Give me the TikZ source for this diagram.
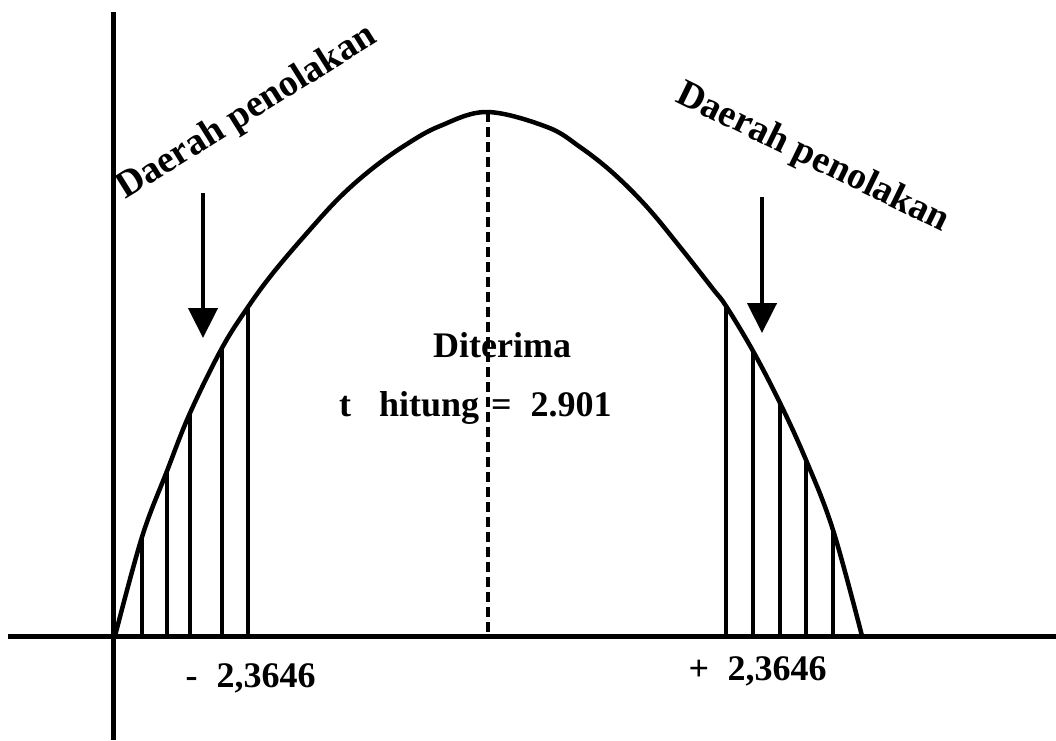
\documentclass[tikz,border=0pt]{standalone}
\usepackage{fontspec}
\setmainfont{Liberation Serif}
\usetikzlibrary{arrows.meta}
\tikzset{
  axisline/.style={line width=5pt},
  curveline/.style={line width=4.5pt, line join=round},
  hatch/.style={line width=4pt},
  midline/.style={line width=4pt, dash pattern=on 10pt off 5pt},
  downarrow/.style={line width=4.5pt, -{Triangle[length=30pt,width=29pt]}},
  lbl/.style={inner sep=0pt, anchor=base west, font=\fontsize{36}{40}\selectfont\bfseries},
  biglbl/.style={inner sep=0pt, anchor=base west, font=\fontsize{38}{42}\selectfont\bfseries}
}
\begin{document}
\begin{tikzpicture}[x=1pt,y=-1pt]
\useasboundingbox (0,0) rectangle (1056,740);
% axes
\coordinate (yt) at (113,12);
\coordinate (yb) at (113,740);
\coordinate (xl) at (8,636);
\coordinate (xr) at (1056,636);
\draw[axisline] (yt) -- (yb);
\draw[axisline] (xl) -- (xr);
% curve
\draw[curveline] plot[smooth, tension=0.6] coordinates {
 (115,636) (142,537) (167,471) (190,413) (222,348) (248,307) (273,273)
 (307,233) (340,197) (373,168) (407,144) (440,126) (487,112)
 (547,127) (580,147) (613,173) (647,207) (680,247) (713,289)
 (726,306) (753,351) (780,403) (806,460) (833,530) (862,636)};
% left hatch lines
\foreach \x/\y [count=\i] in {142/537,167/471,190/413,222/348,248/307}{
  \coordinate (lb\i) at (\x,636);
  \coordinate (lt\i) at (\x,\y);
  \draw[hatch] (lb\i) -- (lt\i);
}
% right hatch lines
\foreach \x/\y [count=\i] in {726/306,753/351,780/403,806/460,833/530}{
  \coordinate (rb\i) at (\x,636);
  \coordinate (rt\i) at (\x,\y);
  \draw[hatch] (rb\i) -- (rt\i);
}
% middle dashed line
\coordinate (mt) at (488,112);
\coordinate (mb) at (488,636);
\draw[midline] (mt) -- (mb);
% arrows
\coordinate (la1) at (203,193);
\coordinate (la2) at (203,338);
\draw[downarrow] (la1) -- (la2);
\coordinate (ra1) at (762,197);
\coordinate (ra2) at (762,333);
\draw[downarrow] (ra1) -- (ra2);
% labels
\node[biglbl, rotate=32] (dl) at (125,200) {Daerah penolakan};
\node[biglbl, rotate=-26] (dr) at (674,101) {Daerah penolakan};
\node[lbl] (dt) at (433,357) {Diterima};
\node[lbl] (th) at (339,416) {t\hspace{28pt}hitung\hspace{12pt}=\hspace{19pt}2.901};
\node[lbl] (nl) at (185.5,687) {-\hspace{19pt}2,3646};
\node[lbl] (nr) at (688.5,680) {+\hspace{18.5pt}2,3646};
\end{tikzpicture}
\end{document}
